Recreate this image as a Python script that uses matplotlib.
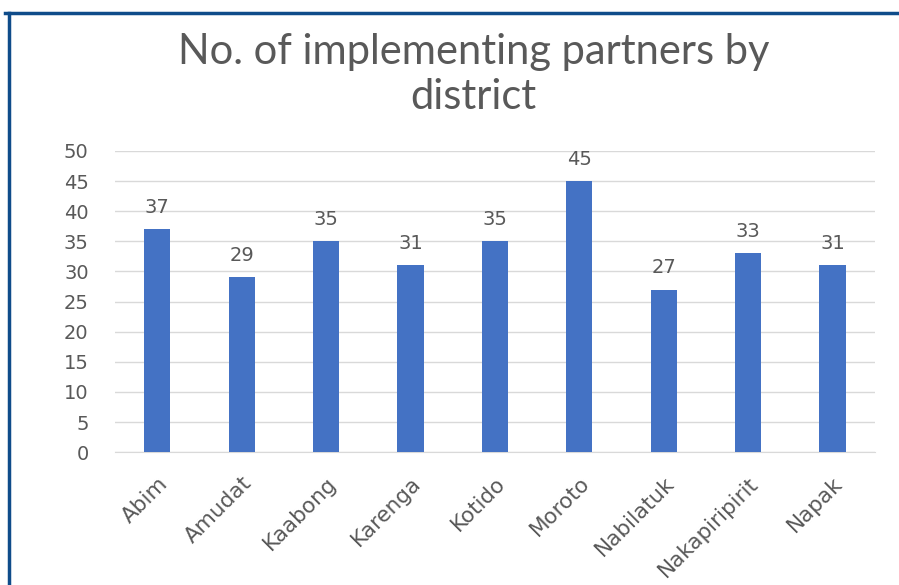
import matplotlib

matplotlib.use("Agg")
import matplotlib.pyplot as plt
from matplotlib.lines import Line2D

plt.rcParams["font.family"] = ["DejaVu Sans"]

# ----------------------------------------------------------------- dati
districts = ["Abim", "Amudat", "Kaabong", "Karenga", "Kotido",
             "Moroto", "Nabilatuk", "Nakapiripirit", "Napak"]
partners = [37, 29, 35, 31, 35, 45, 27, 33, 31]

BAR = "#4472C4"
TXT = "#595959"
GRID = "#D9D9D9"
FRAME = "#0F4C8A"

fig = plt.figure(figsize=(8.99, 5.85), dpi=100)
ax = fig.add_axes([0.128, 0.227, 0.845, 0.515])

x = range(len(districts))
ax.bar(x, partners, width=0.31, color=BAR, zorder=3)
for xi, v in zip(x, partners):
    ax.annotate(str(v), (xi, v), textcoords="offset points", xytext=(0, 9),
                ha="center", va="bottom", fontsize=14, color=TXT)

ax.set_xlim(-0.5, len(districts) - 0.5)
ax.set_ylim(0, 50)
ax.set_yticks(range(0, 51, 5))
ax.yaxis.grid(True, color=GRID, lw=1, zorder=0)
ax.set_xticks(list(x))
ax.set_xticklabels(districts, rotation=45, ha="right", rotation_mode="anchor")
ax.tick_params(axis="both", length=0, labelsize=14, labelcolor=TXT)
ax.tick_params(axis="x", pad=15, labelsize=15.5)
ax.tick_params(axis="y", pad=19)
for s in ["top", "right", "left"]:
    ax.spines[s].set_visible(False)
ax.spines["bottom"].set_color(GRID)

fig.text(0.527, 0.873, "No. of implementing partners by\ndistrict",
         ha="center", va="center", fontsize=30, color=TXT, linespacing=1.22,
         family=["Lato", "DejaVu Sans"])

# cornice blu (alto e sinistra)
fig.add_artist(Line2D([0.006, 1.0], [0.978, 0.978], color=FRAME, lw=2.5,
                      transform=fig.transFigure))
fig.add_artist(Line2D([0.010, 0.010], [0.0, 0.978], color=FRAME, lw=2.5,
                      transform=fig.transFigure))

fig.savefig("out.png", dpi=100)
